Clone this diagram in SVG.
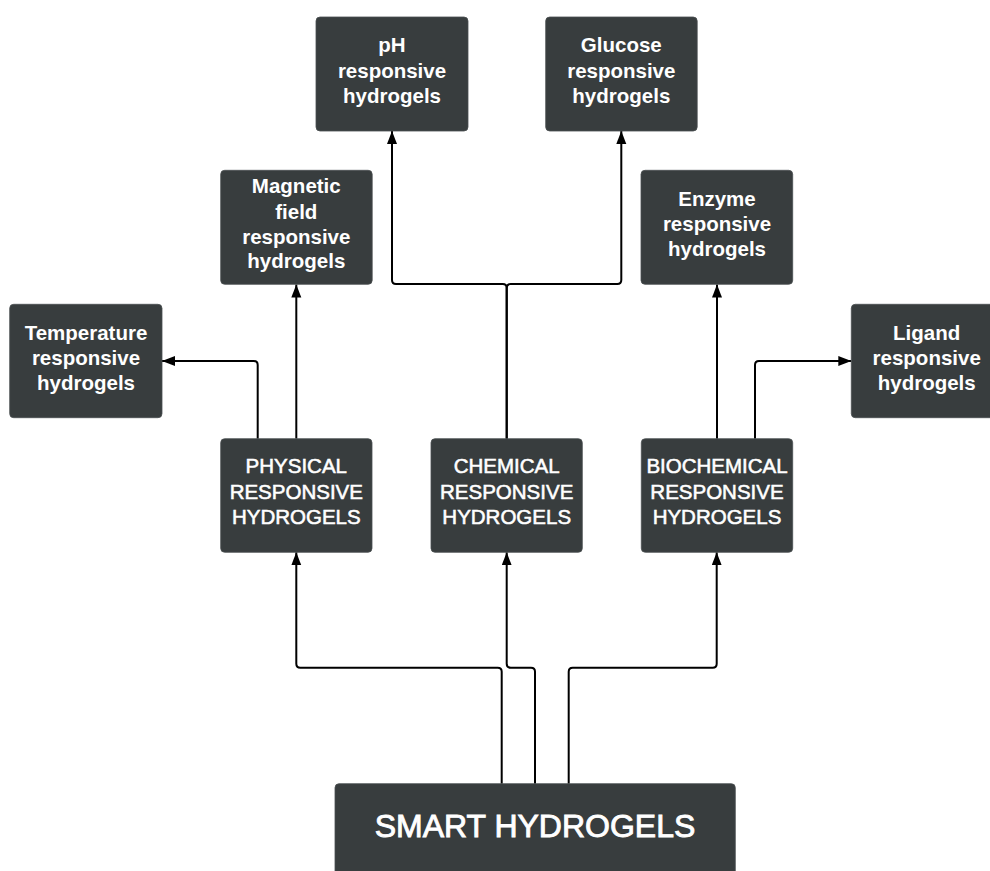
<svg xmlns="http://www.w3.org/2000/svg" width="990" height="871" viewBox="0 0 990 871">
<style>
.box{fill:#383d3e;stroke:#4a4f50;stroke-width:0.8}
.lo{font-family:"Liberation Sans",Arial,sans-serif;font-weight:bold;font-size:20.5px;fill:#ffffff;text-anchor:middle}
.up{font-family:"Liberation Sans",Arial,sans-serif;font-size:20.5px;fill:#ffffff;stroke:#ffffff;stroke-width:0.55;text-anchor:middle}
.big{font-family:"Liberation Sans",Arial,sans-serif;font-size:32px;fill:#ffffff;stroke:#ffffff;stroke-width:0.9;text-anchor:middle}
.con{fill:none;stroke:#000;stroke-width:2;marker-end:url(#ah)}
</style>
<defs>
<marker id="ah" markerUnits="userSpaceOnUse" markerWidth="14" markerHeight="11" refX="13" refY="5" orient="auto">
<path d="M0,0 L13,5 L0,10 Z" fill="#000"/>
</marker>
</defs>
<rect width="990" height="871" fill="#ffffff"/>
<g id="connectors">
<path class="con" d="M506.7,438.7 V288 Q506.7,284 502.7,284 H396 Q392,284 392,280 V131"/>
<path class="con" d="M506.7,438.7 V288 Q506.7,284 510.7,284 H617.3 Q621.3,284 621.3,280 V131"/>
<path class="con" d="M296.3,438.7 V284.5"/>
<path class="con" d="M257.7,438.7 V365 Q257.7,361 253.7,361 H162"/>
<path class="con" d="M717,438.7 V284.5"/>
<path class="con" d="M755,438.7 V365 Q755,361 759,361 H851.3"/>
<path class="con" d="M501.7,783.7 V671.7 Q501.7,667.7 497.7,667.7 H300.3 Q296.3,667.7 296.3,663.7 V552.3"/>
<path class="con" d="M535,783.7 V671.7 Q535,667.7 531,667.7 H510.7 Q506.7,667.7 506.7,663.7 V552.3"/>
<path class="con" d="M568.7,783.7 V671.7 Q568.7,667.7 572.7,667.7 H712.7 Q716.7,667.7 716.7,663.7 V552.3"/>
</g>
<g id="ph">
<rect class="box" x="316" y="17" width="152" height="114" rx="4"/>
<text class="lo" x="392" y="52">pH</text>
<text class="lo" x="392" y="78">responsive</text>
<text class="lo" x="392" y="103">hydrogels</text>
</g>
<g id="glucose">
<rect class="box" x="545.7" y="17" width="151.5" height="114" rx="4"/>
<text class="lo" x="621.3" y="52">Glucose</text>
<text class="lo" x="621.3" y="78">responsive</text>
<text class="lo" x="621.3" y="103">hydrogels</text>
</g>
<g id="magnetic">
<rect class="box" x="220.7" y="170.3" width="151.5" height="114" rx="4"/>
<text class="lo" x="296.3" y="193.3">Magnetic</text>
<text class="lo" x="296.3" y="219">field</text>
<text class="lo" x="296.3" y="243.5">responsive</text>
<text class="lo" x="296.3" y="268">hydrogels</text>
</g>
<g id="enzyme">
<rect class="box" x="641" y="170.3" width="151.7" height="114" rx="4"/>
<text class="lo" x="717" y="205.7">Enzyme</text>
<text class="lo" x="717" y="230.7">responsive</text>
<text class="lo" x="717" y="256">hydrogels</text>
</g>
<g id="temperature">
<rect class="box" x="9.7" y="304.3" width="152.3" height="113.4" rx="4"/>
<text class="lo" x="86" y="340">Temperature</text>
<text class="lo" x="86" y="365">responsive</text>
<text class="lo" x="86" y="390">hydrogels</text>
</g>
<g id="ligand">
<rect class="box" x="851.3" y="304.3" width="152" height="113.4" rx="4"/>
<text class="lo" x="926.7" y="340">Ligand</text>
<text class="lo" x="926.7" y="365">responsive</text>
<text class="lo" x="926.7" y="390">hydrogels</text>
</g>
<g id="physical">
<rect class="box" x="220.7" y="438.7" width="151.3" height="113.6" rx="4"/>
<text class="up" x="296.3" y="473.3">PHYSICAL</text>
<text class="up" x="296.3" y="499">RESPONSIVE</text>
<text class="up" x="296.3" y="524.3">HYDROGELS</text>
</g>
<g id="chemical">
<rect class="box" x="431" y="438.7" width="151.3" height="113.6" rx="4"/>
<text class="up" x="506.7" y="473.3">CHEMICAL</text>
<text class="up" x="506.7" y="499">RESPONSIVE</text>
<text class="up" x="506.7" y="524.3">HYDROGELS</text>
</g>
<g id="biochemical">
<rect class="box" x="641.3" y="438.7" width="151.4" height="113.6" rx="4"/>
<text class="up" x="717" y="473.3">BIOCHEMICAL</text>
<text class="up" x="717" y="499">RESPONSIVE</text>
<text class="up" x="717" y="524.3">HYDROGELS</text>
</g>
<g id="smart">
<rect class="box" x="335" y="783.7" width="400.3" height="100" rx="4"/>
<text class="big" x="535" y="836.7">SMART HYDROGELS</text>
</g>
</svg>
